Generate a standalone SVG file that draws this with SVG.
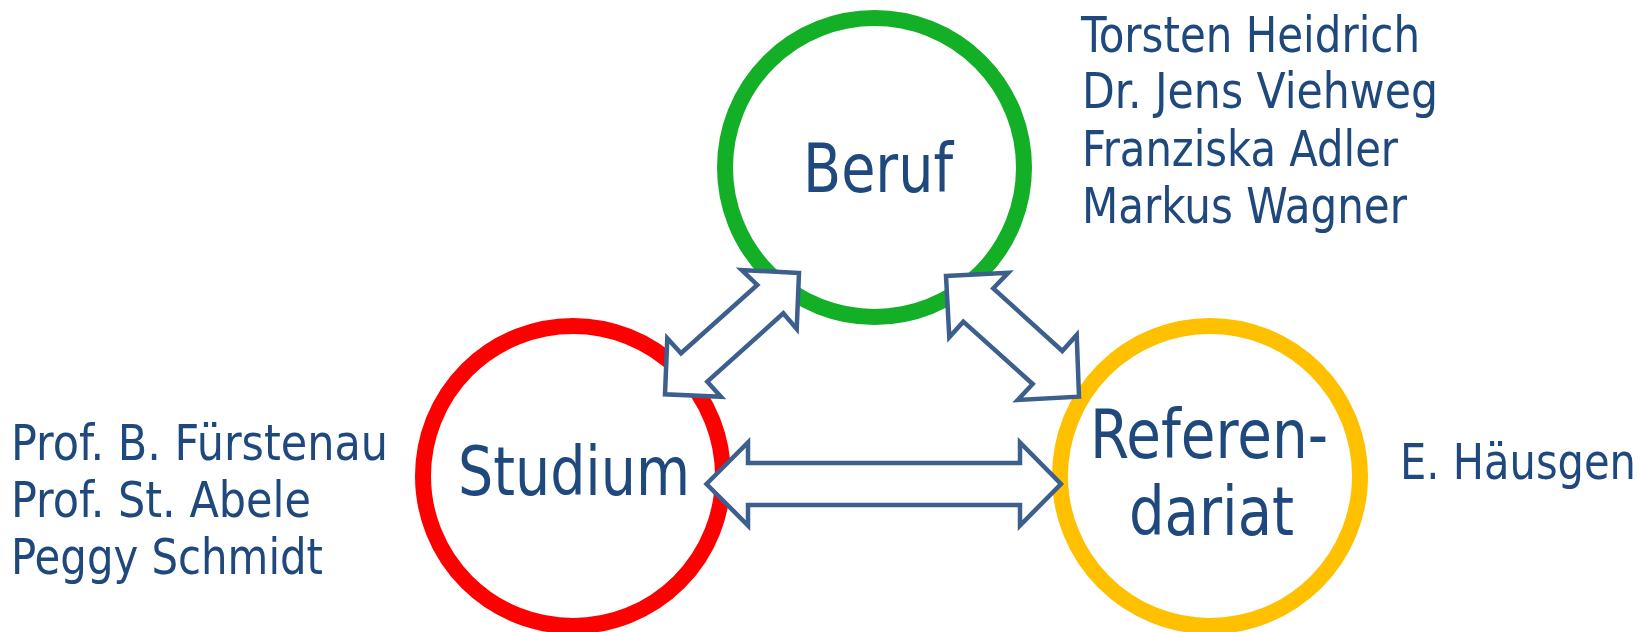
<svg xmlns="http://www.w3.org/2000/svg" width="1652" height="632" viewBox="0 0 1652 632">
<style>
.ring{fill:none;stroke-width:16}
.arr{fill:#ffffff;stroke:#3C5F8D;stroke-width:4.5;stroke-linejoin:miter}
.t{font-family:"DejaVu Sans Condensed","DejaVu Sans",Tahoma,sans-serif;fill:#1F497D}
.s{font-size:50px}
.b{font-size:68px}
</style>
<rect width="1652" height="632" fill="#ffffff"/>
<g id="beruf">
<circle class="ring" cx="874.5" cy="167.5" r="149.5" stroke="#13AF26"/>
<text class="t b" x="803" y="192" textLength="150" lengthAdjust="spacingAndGlyphs">Beruf</text>
</g>
<g id="studium">
<circle class="ring" cx="573" cy="476" r="150" stroke="#FF0000"/>
<text class="t b" x="458" y="495" textLength="232" lengthAdjust="spacingAndGlyphs">Studium</text>
</g>
<g id="referendariat">
<circle class="ring" cx="1210" cy="476" r="150" stroke="#FFC000"/>
<text class="t b" x="1090" y="458" textLength="238" lengthAdjust="spacingAndGlyphs">Referen-</text>
<text class="t b" x="1129" y="535" textLength="165" lengthAdjust="spacingAndGlyphs">dariat</text>
</g>
<g id="connectors">
<polygon class="arr" points="799,273 741.7,270 757.3,285 681,353.3 667.3,338.3 665,394.3 721,396.7 707.3,381.7 783.3,313.3 796.7,329"/>
<polygon class="arr" points="946,276 1008.3,272.7 993.3,288.3 1062.3,351 1076.7,335 1079,396.7 1017.7,400 1032.7,384 963.3,321.7 949.3,337.3"/>
<polygon class="arr" points="706.5,484 748,442.5 748,463 1020,463 1020,442.5 1061,484 1020,525.5 1020,505 748,505 748,525.5"/>
</g>
<g id="beruf-names">
<text class="t s" x="1081" y="52" textLength="339" lengthAdjust="spacingAndGlyphs">Torsten Heidrich</text>
<text class="t s" x="1082" y="108" textLength="356" lengthAdjust="spacingAndGlyphs">Dr. Jens Viehweg</text>
<text class="t s" x="1082" y="166" textLength="316" lengthAdjust="spacingAndGlyphs">Franziska Adler</text>
<text class="t s" x="1082" y="223" textLength="325" lengthAdjust="spacingAndGlyphs">Markus Wagner</text>
</g>
<g id="studium-names">
<text class="t s" x="11" y="460" textLength="377" lengthAdjust="spacingAndGlyphs">Prof. B. Fürstenau</text>
<text class="t s" x="11" y="517" textLength="300" lengthAdjust="spacingAndGlyphs">Prof. St. Abele</text>
<text class="t s" x="11" y="574" textLength="312" lengthAdjust="spacingAndGlyphs">Peggy Schmidt</text>
</g>
<g id="ref-names">
<text class="t s" x="1400" y="479" textLength="236" lengthAdjust="spacingAndGlyphs">E. Häusgen</text>
</g>
</svg>
